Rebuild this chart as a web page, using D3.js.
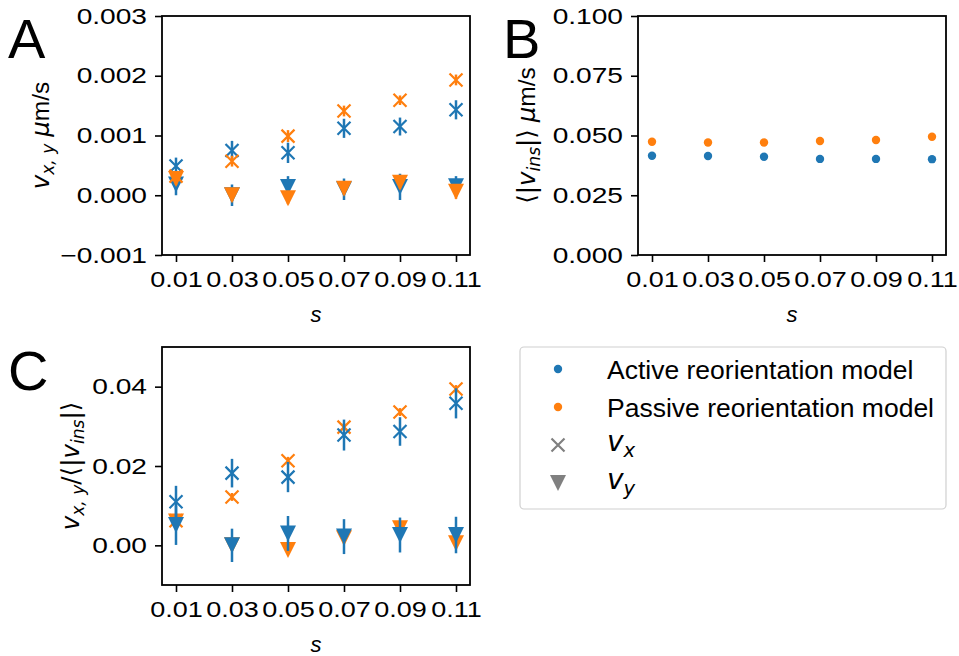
<!DOCTYPE html>
<html>
<head>
<meta charset="utf-8">
<script src="https://cdn.jsdelivr.net/npm/d3@7"></script>
<style>
  body { margin: 0; background: #fff; }
  text { font-family: "Liberation Sans", Arial, sans-serif; fill: #000; }
</style>
</head>
<body>
<svg id="fig" width="959" height="656"></svg>
<script>
// x categories (s)
var sVals = [0.01, 0.03, 0.05, 0.07, 0.09, 0.11];

// panel A: v_x, v_y in um/s
var vxActive     = [0.00049, 0.00075, 0.00071, 0.00112, 0.00115, 0.00143];
var vxActiveErr  = [0.00014, 0.00016, 0.00017, 0.00016, 0.00015, 0.00016];
var vyActive     = [0.00018, 0.00000, 0.00014, 0.00010, 0.00014, 0.00015];
var vyActiveErr  = [0.00018, 0.00018, 0.00018, 0.00018, 0.00022, 0.00017];
var vxPassive    = [0.00032, 0.00057, 0.00099, 0.00141, 0.00159, 0.00193];
var vxPassiveErr = [0.00008, 0.00009, 0.00010, 0.00009, 0.00008, 0.00009];
var vyPassive    = [0.00027, 0.00000, -0.00005, 0.00011, 0.00021, 0.00006];
var vyPassiveErr = [0.00010, 0.00010, 0.00010, 0.00010, 0.00010, 0.00012];

// panel B: <|v_ins|> in um/s
var absActive  = [0.0415, 0.0414, 0.0411, 0.0402, 0.0402, 0.0401];
var absPassive = [0.0474, 0.0471, 0.0471, 0.0477, 0.0481, 0.0495];

// panel C: v_x,y / <|v_ins|>
var cxActive     = [0.0110, 0.0182, 0.0172, 0.0278, 0.0287, 0.0358];
var cxActiveErr  = [0.0040, 0.0036, 0.0038, 0.0039, 0.0036, 0.0038];
var cyActive     = [0.0051, 0.0000, 0.0030, 0.0022, 0.0026, 0.0026];
var cyActiveErr  = [0.0050, 0.0042, 0.0044, 0.0044, 0.0044, 0.0046];
var cxPassive    = [0.0062, 0.0122, 0.0213, 0.0298, 0.0336, 0.0394];
var cxPassiveErr = [0.0010, 0.0010, 0.0010, 0.0010, 0.0010, 0.0010];
var cyPassive    = [0.0060, 0.0000, -0.0012, 0.0018, 0.0043, 0.0005];
var cyPassiveErr = [0.0010, 0.0010, 0.0010, 0.0010, 0.0010, 0.0010];

// tick labels
var yTicksA = [-0.001, 0, 0.001, 0.002, 0.003];
var yTicksB = [0, 0.025, 0.05, 0.075, 0.1];
var yTicksC = [0, 0.02, 0.04];

var legendLabels = ["Active reorientation model", "Passive reorientation model"];

var svg = d3.select("#fig");
var BLUE = "#1f77b4", ORANGE = "#ff7f0e", GRAY = "#808080";
var TICK_FONT = 22.5;
var X_STRETCH = 1.2;    // tick labels look horizontally wide in the original
var Y_STRETCH = 1.25;
var LABEL_FONT = 24.5;
var MATH = "'DejaVu Sans', sans-serif";

var X_MARK = "M-6.5,-6.5L6.5,6.5M-6.5,6.5L6.5,-6.5";
var TRI_MARK = "M0,8L-8,-8L8,-8Z";

function styleTicks(a, stretch) {
  a.select(".domain").remove();
  a.selectAll(".tick line").attr("stroke", "#000").attr("stroke-width", 1.6);
  a.selectAll(".tick text").attr("font-size", TICK_FONT)
    .attr("font-family", "'Liberation Sans', Arial, sans-serif").attr("fill", "#000")
    .attr("transform", "scale(" + stretch + ",1)")
    .attr("x", function(){ return (+d3.select(this).attr("x") || 0) / stretch; });
}

// 軸と枠
function drawFrame(left, top, w, h, yDomain, yTicks, yFmt) {
  var x = d3.scaleLinear().domain([0.005, 0.115]).range([left, left + w]);
  var y = d3.scaleLinear().domain(yDomain).range([top + h, top]);

  var ax = svg.append("g")
    .attr("transform", "translate(0," + (top + h) + ")")
    .call(d3.axisBottom(x).tickValues(sVals).tickFormat(d3.format(".2f"))
      .tickSize(7).tickSizeOuter(0).tickPadding(9));
  var ay = svg.append("g")
    .attr("transform", "translate(" + left + ",0)")
    .call(d3.axisLeft(y).tickValues(yTicks).tickFormat(yFmt)
      .tickSize(7).tickSizeOuter(0).tickPadding(8));
  styleTicks(ax, X_STRETCH);
  styleTicks(ay, Y_STRETCH);

  svg.append("rect")
    .attr("x", left).attr("y", top).attr("width", w).attr("height", h)
    .attr("fill", "none").attr("stroke", "#000").attr("stroke-width", 1.8);

  var g = svg.append("g");
  return {x: x, y: y, g: g};
}

// エラーバー付き系列
function errSeries(p, vals, errs, color, shape) {
  var grp = p.g.append("g");
  grp.selectAll(null).data(vals).enter().append("line")
    .attr("x1", function(d, i){ return p.x(sVals[i]); })
    .attr("x2", function(d, i){ return p.x(sVals[i]); })
    .attr("y1", function(d, i){ return p.y(d - errs[i]); })
    .attr("y2", function(d, i){ return p.y(d + errs[i]); })
    .attr("stroke", color).attr("stroke-width", 2.5);
  var m = grp.selectAll(null).data(vals).enter().append("path")
    .attr("d", shape)
    .attr("transform", function(d, i){ return "translate(" + p.x(sVals[i]) + "," + p.y(d) + ")"; });
  if (shape === X_MARK) {
    m.attr("fill", "none").attr("stroke", color).attr("stroke-width", 2.2);
  } else {
    m.attr("fill", color).attr("stroke", "none");
  }
}

function dots(p, vals, color) {
  p.g.selectAll(null).data(vals).enter().append("circle")
    .attr("cx", function(d, i){ return p.x(sVals[i]); })
    .attr("cy", function(d){ return p.y(d); })
    .attr("r", 4.2).attr("fill", color);
}

// 数式風ラベル
function richText(sel, parts, size) {
  var shift = 0;
  parts.forEach(function(pt){
    var ts = sel.append("tspan").text(pt.t);
    var fs = pt.sub ? size * 0.7 : size;
    ts.attr("font-size", fs);
    if (pt.m) ts.attr("font-family", MATH).attr("font-style", pt.up ? "normal" : "italic");
    var want = pt.sub ? size * 0.22 : 0;
    if (want !== shift) { ts.attr("dy", want - shift); shift = want; }
  });
}

function yLabel(cx, cy, parts) {
  var t = svg.append("text")
    .attr("transform", "translate(" + cx + "," + cy + ") rotate(-90)")
    .attr("text-anchor", "middle").attr("dy", "0.35em");
  richText(t, parts, LABEL_FONT);
}

function xLabel(cx, y) {
  svg.append("text").attr("x", cx).attr("y", y).attr("text-anchor", "middle")
    .attr("font-family", MATH).attr("font-style", "italic").attr("font-size", 22)
    .text("s");
}

function panelLetter(x, y, s) {
  svg.append("text").attr("x", x).attr("y", y).attr("font-size", 56).text(s);
}

// ---- panel A
var pA = drawFrame(162, 16, 308, 239, [-0.001, 0.003], yTicksA, d3.format(".3f"));
errSeries(pA, vxActive, vxActiveErr, BLUE, X_MARK);
errSeries(pA, vyActive, vyActiveErr, BLUE, TRI_MARK);
errSeries(pA, vxPassive, vxPassiveErr, ORANGE, X_MARK);
errSeries(pA, vyPassive, vyPassiveErr, ORANGE, TRI_MARK);
yLabel(43, 135.5, [{t:"v", m:true}, {t:"x, y", m:true, sub:true}, {t:" "}, {t:"μ", m:true}, {t:"m/s"}]);
xLabel(316, 322);
panelLetter(8, 58, "A");

// ---- panel B
var pB = drawFrame(638, 16, 308, 239, [0, 0.1], yTicksB, d3.format(".3f"));
dots(pB, absActive, BLUE);
dots(pB, absPassive, ORANGE);
yLabel(529, 135.5, [{t:"⟨|", m:true, up:true}, {t:"v", m:true}, {t:"ins", m:true, sub:true}, {t:"|⟩", m:true, up:true}, {t:" "}, {t:"μ", m:true}, {t:"m/s"}]);
xLabel(792, 322);
panelLetter(503, 58, "B");

// ---- panel C
var pC = drawFrame(162, 347, 308, 238, [-0.01, 0.05], yTicksC, d3.format(".2f"));
errSeries(pC, cxPassive, cxPassiveErr, ORANGE, X_MARK);
errSeries(pC, cyPassive, cyPassiveErr, ORANGE, TRI_MARK);
errSeries(pC, cxActive, cxActiveErr, BLUE, X_MARK);
errSeries(pC, cyActive, cyActiveErr, BLUE, TRI_MARK);
yLabel(73, 466, [{t:"v", m:true}, {t:"x, y", m:true, sub:true}, {t:"/⟨|", m:true, up:true}, {t:"v", m:true}, {t:"ins", m:true, sub:true}, {t:"|⟩", m:true, up:true}]);
xLabel(316, 652);
panelLetter(8, 390, "C");

// ---- legend
var leg = svg.append("g");
leg.append("rect").attr("x", 520).attr("y", 347).attr("width", 426).attr("height", 162)
  .attr("rx", 4).attr("fill", "#fff").attr("stroke", "#d0d0d0").attr("stroke-width", 1.2);
var rowY = [369, 407, 445, 483];
leg.append("circle").attr("cx", 558).attr("cy", rowY[0]).attr("r", 4.2).attr("fill", BLUE);
leg.append("circle").attr("cx", 558).attr("cy", rowY[1]).attr("r", 4.2).attr("fill", ORANGE);
leg.append("path").attr("d", X_MARK).attr("transform", "translate(558," + rowY[2] + ")")
  .attr("fill", "none").attr("stroke", GRAY).attr("stroke-width", 2.2);
leg.append("path").attr("d", TRI_MARK).attr("transform", "translate(558," + rowY[3] + ")")
  .attr("fill", GRAY);
legendLabels.forEach(function(l, i){
  leg.append("text").attr("x", 607).attr("y", rowY[i] + 9.5).attr("font-size", 26.5).text(l);
});
var t3 = leg.append("text").attr("x", 607).attr("y", rowY[2] + 6);
richText(t3, [{t:"v", m:true}, {t:"x", m:true, sub:true}], 28);
var t4 = leg.append("text").attr("x", 607).attr("y", rowY[3] + 6);
richText(t4, [{t:"v", m:true}, {t:"y", m:true, sub:true}], 28);
</script>
</body>
</html>
